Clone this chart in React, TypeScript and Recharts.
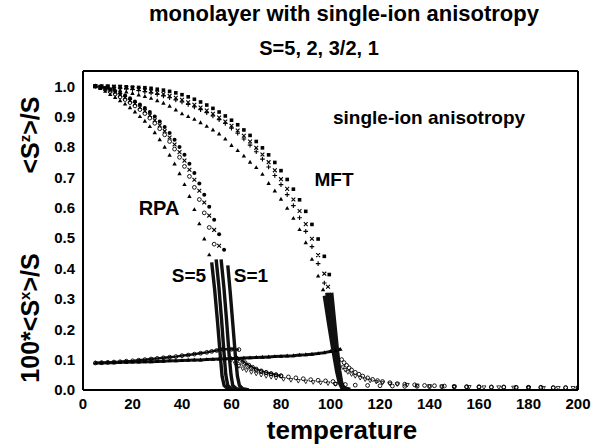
import React from 'react';
import { ComposedChart, XAxis, YAxis, Scatter, Line } from 'recharts';

const FONT = '"Liberation Sans", Arial, Helvetica, sans-serif';

// ---------- tick values ----------
const xMajorTicks = [0, 20, 40, 60, 80, 100, 120, 140, 160, 180, 200];
const xMinorTicks = [10, 30, 50, 70, 90, 110, 130, 150, 170, 190];
const yMajorTicks = [0, 0.1, 0.2, 0.3, 0.4, 0.5, 0.6, 0.7, 0.8, 0.9, 1.0];
const yMinorTicks = [0.05, 0.15, 0.25, 0.35, 0.45, 0.55, 0.65, 0.75, 0.85, 0.95];

// ---------- <Sz>/S, RPA (T, value) ----------
const rpaSzS5: [number, number][] = [
  [5, 1.0], [7, 0.992], [9, 0.983], [11, 0.973], [13, 0.963], [15, 0.952], [17, 0.941], [19, 0.929],
  [21, 0.915], [23, 0.9], [25, 0.885], [27, 0.867], [29, 0.847], [31, 0.824], [33, 0.799], [35, 0.773],
  [37, 0.744], [39, 0.712], [41, 0.676], [43, 0.637], [45, 0.594], [47, 0.547], [49, 0.497], [51, 0.445],
];
const rpaSzS2: [number, number][] = [
  [5, 1.0], [7, 0.996], [9, 0.99], [11, 0.982], [13, 0.974], [15, 0.965], [17, 0.956], [19, 0.946],
  [21, 0.935], [23, 0.923], [25, 0.91], [27, 0.895], [29, 0.878], [31, 0.86], [33, 0.84], [35, 0.818],
  [37, 0.793], [39, 0.766], [41, 0.736], [43, 0.703], [45, 0.667], [47, 0.627], [49, 0.583], [51, 0.535],
  [53, 0.48],
];
const rpaSzS32: [number, number][] = [
  [5, 1.0], [7, 0.997], [9, 0.992], [11, 0.986], [13, 0.979], [15, 0.971], [17, 0.962], [19, 0.952],
  [21, 0.942], [23, 0.93], [25, 0.918], [27, 0.904], [29, 0.888], [31, 0.871], [33, 0.852], [35, 0.831],
  [37, 0.808], [39, 0.783], [41, 0.755], [43, 0.725], [45, 0.692], [47, 0.656], [49, 0.617], [51, 0.574],
  [53, 0.527], [55, 0.475],
];
const rpaSzS1: [number, number][] = [
  [5, 1.0], [7, 0.998], [9, 0.995], [11, 0.99], [13, 0.984], [15, 0.977], [17, 0.969], [19, 0.96],
  [21, 0.95], [23, 0.94], [25, 0.928], [27, 0.915], [29, 0.9], [31, 0.884], [33, 0.866], [35, 0.846],
  [37, 0.824], [39, 0.8], [41, 0.774], [43, 0.745], [45, 0.714], [47, 0.68], [49, 0.643], [51, 0.603],
  [53, 0.56], [55, 0.513], [57, 0.462],
];
// steep drop near Tc (dense points in the original)
const rpaDropS5: [number, number][] = [[52, 0.42], [53.2, 0.33], [54.4, 0.22], [55.5, 0.11], [56.2, 0.045], [57, 0.015], [58.5, 0.004], [62, 0.0]];
const rpaDropS2: [number, number][] = [[53.8, 0.43], [54.9, 0.34], [56, 0.23], [57, 0.12], [57.7, 0.05], [58.5, 0.015], [60, 0.004], [63, 0.0]];
const rpaDropS32: [number, number][] = [[55.8, 0.43], [56.9, 0.34], [58, 0.23], [59, 0.12], [59.8, 0.05], [60.5, 0.015], [62, 0.004], [65, 0.0]];
const rpaDropS1: [number, number][] = [[58.5, 0.41], [59.5, 0.32], [60.6, 0.21], [61.6, 0.11], [62.4, 0.045], [63.2, 0.015], [64.5, 0.004], [67, 0.0]];

// ---------- <Sz>/S, MFT ----------
const mftSzS5: [number, number][] = [
  [5, 1.0], [7.5, 0.997], [10, 0.994], [12.5, 0.99], [15, 0.986], [17.5, 0.981], [20, 0.976], [22.5, 0.971],
  [25, 0.966], [27.5, 0.96], [30, 0.952], [32.5, 0.944], [35, 0.934], [37.5, 0.922], [40, 0.909], [42.5, 0.9],
  [45, 0.891], [47.5, 0.88], [50, 0.868], [52.5, 0.856], [55, 0.843], [57.5, 0.826], [60, 0.805], [62.5, 0.788],
  [65, 0.77], [67.5, 0.75], [70, 0.732], [72.5, 0.71], [75, 0.68], [77.5, 0.655], [80, 0.628], [82.5, 0.598],
  [85, 0.565], [87.5, 0.528], [90, 0.485], [92.5, 0.43], [95, 0.375], [97, 0.33],
];
const mftSzS2: [number, number][] = [
  [5, 1.0], [7.5, 0.999], [10, 0.998], [12.5, 0.996], [15, 0.994], [17.5, 0.992], [20, 0.989], [22.5, 0.986],
  [25, 0.982], [27.5, 0.978], [30, 0.973], [32.5, 0.968], [35, 0.962], [37.5, 0.955], [40, 0.948], [42.5, 0.94],
  [45, 0.932], [47.5, 0.923], [50, 0.913], [52.5, 0.902], [55, 0.89], [57.5, 0.877], [60, 0.862], [62.5, 0.845],
  [65, 0.826], [67.5, 0.806], [70, 0.784], [72.5, 0.76], [75, 0.734], [77.5, 0.706], [80, 0.676], [82.5, 0.643],
  [85, 0.607], [87.5, 0.567], [90, 0.522], [92.5, 0.472], [95, 0.416], [97.5, 0.352],
];
const mftSzS32: [number, number][] = [
  [5, 1.0], [7.5, 0.999], [10, 0.999], [12.5, 0.998], [15, 0.997], [17.5, 0.995], [20, 0.993], [22.5, 0.99],
  [25, 0.987], [27.5, 0.983], [30, 0.979], [32.5, 0.974], [35, 0.968], [37.5, 0.962], [40, 0.955], [42.5, 0.947],
  [45, 0.939], [47.5, 0.93], [50, 0.92], [52.5, 0.909], [55, 0.897], [57.5, 0.884], [60, 0.87], [62.5, 0.854],
  [65, 0.837], [67.5, 0.818], [70, 0.797], [72.5, 0.775], [75, 0.75], [77.5, 0.723], [80, 0.694], [82.5, 0.662],
  [85, 0.627], [87.5, 0.589], [90, 0.546], [92.5, 0.498], [95, 0.444], [97.5, 0.383], [99, 0.34],
];
const mftSzS1: [number, number][] = [
  [5, 1.0], [7.5, 1.0], [10, 1.0], [12.5, 0.999], [15, 0.999], [17.5, 0.998], [20, 0.997], [22.5, 0.996],
  [25, 0.995], [27.5, 0.993], [30, 0.99], [32.5, 0.987], [35, 0.983], [37.5, 0.978], [40, 0.972], [42.5, 0.965],
  [45, 0.957], [47.5, 0.948], [50, 0.938], [52.5, 0.927], [55, 0.915], [57.5, 0.902], [60, 0.888], [62.5, 0.873],
  [65, 0.856], [67.5, 0.838], [70, 0.818], [72.5, 0.797], [75, 0.774], [77.5, 0.749], [80, 0.722], [82.5, 0.693],
  [85, 0.661], [87.5, 0.626], [90, 0.588], [92.5, 0.545], [95, 0.497], [97.5, 0.44], [99.5, 0.38],
];
const mftDropS5: [number, number][] = [[97.5, 0.31], [99.2, 0.22], [101, 0.13], [102.5, 0.06], [103.5, 0.025], [104.5, 0.008], [107, 0.002]];
const mftDropS2: [number, number][] = [[98.5, 0.32], [100, 0.23], [101.5, 0.14], [102.8, 0.065], [103.8, 0.025], [104.8, 0.008], [107, 0.002]];
const mftDropS32: [number, number][] = [[99.5, 0.32], [100.8, 0.23], [102.2, 0.14], [103.3, 0.065], [104.2, 0.025], [105, 0.008], [107.5, 0.002]];
const mftDropS1: [number, number][] = [[100.5, 0.32], [101.6, 0.23], [102.7, 0.14], [103.7, 0.065], [104.5, 0.025], [105.3, 0.008], [108, 0.002]];

// ---------- 100*<Sx>/S ----------
const rpaSxRise: [number, number][] = [
  [5, 0.089], [7.5, 0.09], [10, 0.091], [12.5, 0.092], [15, 0.093], [17.5, 0.095], [20, 0.096], [22.5, 0.098],
  [25, 0.1], [27.5, 0.102], [30, 0.104], [32.5, 0.106], [35, 0.108], [37.5, 0.11], [40, 0.113], [42.5, 0.115],
  [45, 0.118], [47.5, 0.121], [50, 0.124], [52, 0.127], [54, 0.13], [56.5, 0.134], [60, 0.134], [63, 0.133],
];
const mftSxRise: [number, number][] = [
  [5, 0.089], [7.5, 0.089], [10, 0.09], [12.5, 0.09], [15, 0.091], [17.5, 0.091], [20, 0.092], [22.5, 0.092],
  [25, 0.093], [27.5, 0.093], [30, 0.094], [32.5, 0.095], [35, 0.096], [37.5, 0.096], [40, 0.097], [42.5, 0.098],
  [45, 0.099], [47.5, 0.099], [50, 0.1], [52.5, 0.101], [55, 0.102], [57.5, 0.103], [60, 0.104], [62.5, 0.104],
  [65, 0.105], [67.5, 0.106], [70, 0.107], [72.5, 0.108], [75, 0.109], [77.5, 0.11], [80, 0.111], [82.5, 0.112],
  [85, 0.113], [87.5, 0.115], [90, 0.116], [92.5, 0.118], [95, 0.12], [97.5, 0.123], [100, 0.127], [102, 0.13],
  [104, 0.134],
];
const rpaSxTailA: [number, number][] = [
  [62, 0.105], [63.5, 0.094], [65, 0.085], [66.5, 0.078], [68, 0.072], [70, 0.066], [72, 0.061], [74, 0.057],
  [76, 0.053], [78, 0.05], [80, 0.047], [83, 0.043], [86, 0.04], [89, 0.037], [92, 0.034], [95, 0.032],
  [98, 0.03], [101, 0.028],
];
const rpaSxTailB: [number, number][] = [
  [60, 0.1], [61.5, 0.088], [63, 0.079], [64.5, 0.071], [66, 0.065], [68, 0.059], [70, 0.054], [72, 0.05],
  [74, 0.046], [76, 0.043], [78, 0.04], [81, 0.036], [84, 0.033], [87, 0.03], [90, 0.028], [93, 0.026],
  [96, 0.024], [99, 0.022], [102, 0.02],
];
const rpaSxTailC: [number, number][] = [
  [64, 0.1], [65.5, 0.09], [67, 0.082], [68.5, 0.075], [70, 0.069], [72, 0.063], [74, 0.058], [76, 0.054],
  [78, 0.05], [80, 0.046],
];
const mftSxTailA: [number, number][] = [
  [104.5, 0.1], [105.5, 0.09], [106.5, 0.081], [107.5, 0.073], [108.5, 0.066], [110, 0.058], [111.5, 0.052],
  [113, 0.046], [115, 0.04], [117, 0.035], [119, 0.031], [121, 0.028], [124, 0.024], [127, 0.021], [130, 0.019],
  [134, 0.017], [138, 0.015], [142, 0.014], [146, 0.013], [150, 0.012], [155, 0.011], [160, 0.011], [165, 0.01],
  [170, 0.01], [175, 0.009], [180, 0.009], [185, 0.009], [190, 0.008], [195, 0.008], [200, 0.008],
];
const mftSxTailB: [number, number][] = [
  [105, 0.075], [106, 0.066], [107, 0.059], [108.5, 0.052], [110, 0.046], [112, 0.04], [114, 0.035], [116, 0.031],
  [118.5, 0.027], [121, 0.024], [124, 0.021], [127, 0.019], [131, 0.017], [135, 0.015], [140, 0.013], [145, 0.012],
  [150, 0.011], [156, 0.01], [162, 0.009], [168, 0.009], [174, 0.008], [180, 0.008], [186, 0.007], [192, 0.007],
  [198, 0.007],
];
const farTail: [number, number][] = [
  [102, 0.02], [106, 0.018], [110, 0.016], [115, 0.015], [120, 0.014], [125, 0.013], [130, 0.012], [135, 0.012],
  [140, 0.011], [145, 0.011], [150, 0.01], [155, 0.01], [160, 0.009], [165, 0.009], [170, 0.009], [175, 0.008],
  [180, 0.008], [185, 0.008], [190, 0.007], [195, 0.007], [200, 0.007],
];

const toData = (a: [number, number][]) => a.map(([t, v]) => ({ t, v }));

// ---------- marker shapes ----------
const K = '#000';
const triUp = (p: any) => (
  <path d={`M${p.cx} ${p.cy - 2.4}L${p.cx + 2.2} ${p.cy + 1.5}L${p.cx - 2.2} ${p.cy + 1.5}Z`} fill={K} />
);
const triDown = (p: any) => (
  <path d={`M${p.cx} ${p.cy + 2.2}L${p.cx + 2} ${p.cy - 1.4}L${p.cx - 2} ${p.cy - 1.4}Z`} fill="none" stroke={K} strokeWidth={0.8} />
);
const openCircle = (p: any) => <circle cx={p.cx} cy={p.cy} r={1.9} fill="none" stroke={K} strokeWidth={0.9} />;
const dotCircle = (p: any) => <circle cx={p.cx} cy={p.cy} r={2} fill={K} />;
const xCross = (p: any) => (
  <path d={`M${p.cx - 1.9} ${p.cy - 1.9}L${p.cx + 1.9} ${p.cy + 1.9}M${p.cx - 1.9} ${p.cy + 1.9}L${p.cx + 1.9} ${p.cy - 1.9}`} stroke={K} strokeWidth={1.1} />
);
const plus = (p: any) => (
  <path d={`M${p.cx - 2.3} ${p.cy}L${p.cx + 2.3} ${p.cy}M${p.cx} ${p.cy - 2.3}L${p.cx} ${p.cy + 2.3}`} stroke={K} strokeWidth={1.1} />
);
const square = (p: any) => <rect x={p.cx - 1.8} y={p.cy - 1.8} width={3.6} height={3.6} fill={K} />;

const scatterSeries: { name: string; data: [number, number][]; shape: any }[] = [
  { name: 'rpaSzS5', data: rpaSzS5, shape: triUp },
  { name: 'rpaSzS2', data: rpaSzS2, shape: openCircle },
  { name: 'rpaSzS32', data: rpaSzS32, shape: xCross },
  { name: 'rpaSzS1', data: rpaSzS1, shape: dotCircle },
  { name: 'mftSzS5', data: mftSzS5, shape: triUp },
  { name: 'mftSzS2', data: mftSzS2, shape: plus },
  { name: 'mftSzS32', data: mftSzS32, shape: xCross },
  { name: 'mftSzS1', data: mftSzS1, shape: square },
  { name: 'rpaSxRise', data: rpaSxRise, shape: openCircle },
  { name: 'mftSxRise', data: mftSxRise, shape: triUp },
  { name: 'rpaSxTailA', data: rpaSxTailA, shape: openCircle },
  { name: 'rpaSxTailB', data: rpaSxTailB, shape: triDown },
  { name: 'rpaSxTailC', data: rpaSxTailC, shape: openCircle },
  { name: 'mftSxTailA', data: mftSxTailA, shape: openCircle },
  { name: 'mftSxTailB', data: mftSxTailB, shape: triDown },
  { name: 'farTail', data: farTail, shape: openCircle },
];

const lineSeries: { name: string; data: [number, number][]; w: number }[] = [
  { name: 'rpaDropS5', data: rpaDropS5, w: 3.4 },
  { name: 'rpaDropS2', data: rpaDropS2, w: 3.4 },
  { name: 'rpaDropS32', data: rpaDropS32, w: 3.4 },
  { name: 'rpaDropS1', data: rpaDropS1, w: 3.4 },
  { name: 'mftDropS5', data: mftDropS5, w: 3.4 },
  { name: 'mftDropS2', data: mftDropS2, w: 3.4 },
  { name: 'mftDropS32', data: mftDropS32, w: 3.4 },
  { name: 'mftDropS1', data: mftDropS1, w: 3.4 },
  { name: 'rpaSxRiseL', data: rpaSxRise, w: 2.4 },
  { name: 'mftSxRiseL', data: mftSxRise, w: 3 },
  { name: 'rpaSxTailAL', data: rpaSxTailC, w: 1.5 },
];

const tickStyle = { fill: '#000', fontSize: 15, fontWeight: 'bold', fontFamily: FONT } as any;

const txt = (x: number, y: number, size: number, extra: any = {}): React.CSSProperties => ({
  position: 'absolute',
  left: x,
  top: y,
  transform: 'translate(-50%, -50%)',
  fontSize: size,
  fontWeight: 'bold',
  fontFamily: FONT,
  whiteSpace: 'nowrap',
  lineHeight: 1,
  color: '#000',
  ...extra,
});

export default function App() {
  return (
    <div style={{ position: 'absolute', left: 0, top: 0, width: 592, height: 447, background: '#fff', overflow: 'hidden' }}>
      <ComposedChart width={592} height={447} margin={{ top: 71, right: 14, bottom: 27, left: 23 }}>
        <XAxis xAxisId="b" dataKey="t" type="number" domain={[0, 200]} ticks={xMajorTicks} allowDataOverflow
          tickLine={false} axisLine={{ stroke: K, strokeWidth: 2 }} tick={tickStyle} height={30} tickSize={6} tickMargin={2} />
        <XAxis xAxisId="bM" dataKey="t" type="number" domain={[0, 200]} ticks={xMajorTicks} mirror tick={false}
          axisLine={false} tickLine={{ stroke: K, strokeWidth: 1 }} tickSize={7} height={1} />
        <XAxis xAxisId="bm" dataKey="t" type="number" domain={[0, 200]} ticks={xMinorTicks} mirror tick={false}
          axisLine={false} tickLine={{ stroke: K, strokeWidth: 1 }} tickSize={4} height={1} />
        <XAxis xAxisId="tM" dataKey="t" type="number" orientation="top" domain={[0, 200]} ticks={xMajorTicks} mirror tick={false}
          axisLine={{ stroke: K, strokeWidth: 2 }} tickLine={{ stroke: K, strokeWidth: 1 }} tickSize={7} height={1} />
        <XAxis xAxisId="tm" dataKey="t" type="number" orientation="top" domain={[0, 200]} ticks={xMinorTicks} mirror tick={false}
          axisLine={false} tickLine={{ stroke: K, strokeWidth: 1 }} tickSize={4} height={1} />
        <YAxis yAxisId="l" dataKey="v" type="number" domain={[0, 1.05]} ticks={yMajorTicks} allowDataOverflow
          tickLine={false} axisLine={{ stroke: K, strokeWidth: 2 }} tick={tickStyle} width={60} tickSize={6} tickMargin={2}
          tickFormatter={(v: number) => v.toFixed(1)} />
        <YAxis yAxisId="lM" type="number" domain={[0, 1.05]} ticks={yMajorTicks} mirror tick={false}
          axisLine={false} tickLine={{ stroke: K, strokeWidth: 1 }} tickSize={7} width={1} />
        <YAxis yAxisId="lm" type="number" domain={[0, 1.05]} ticks={yMinorTicks} mirror tick={false}
          axisLine={false} tickLine={{ stroke: K, strokeWidth: 1 }} tickSize={4} width={1} />
        <YAxis yAxisId="rM" type="number" orientation="right" domain={[0, 1.05]} ticks={yMajorTicks} mirror tick={false}
          axisLine={{ stroke: K, strokeWidth: 2 }} tickLine={{ stroke: K, strokeWidth: 1 }} tickSize={7} width={1} />
        <YAxis yAxisId="rm" type="number" orientation="right" domain={[0, 1.05]} ticks={yMinorTicks} mirror tick={false}
          axisLine={false} tickLine={{ stroke: K, strokeWidth: 1 }} tickSize={4} width={1} />

        {lineSeries.map((s) => (
          <Line key={s.name} name={s.name} data={toData(s.data)} dataKey="v" xAxisId="b" yAxisId="l" type="linear"
            stroke="#111" strokeWidth={s.w} dot={false} activeDot={false} isAnimationActive={false} />
        ))}
        {scatterSeries.map((s) => (
          <Scatter key={s.name} name={s.name} data={toData(s.data)} dataKey="v" xAxisId="b" yAxisId="l"
            shape={s.shape} isAnimationActive={false} />
        ))}
      </ComposedChart>

      <div style={txt(344, 14, 22)}>monolayer with single-ion anisotropy</div>
      <div style={txt(319, 48, 20)}>S=5, 2, 3/2, 1</div>
      <div style={txt(30, 135, 25, { transform: 'translate(-50%, -50%) rotate(-90deg)' })}>
        &lt;S<sup style={{ fontSize: '0.6em' }}>z</sup>&gt;/S
      </div>
      <div style={txt(30, 318, 25, { transform: 'translate(-50%, -50%) rotate(-90deg)' })}>
        100*&lt;S<sup style={{ fontSize: '0.6em' }}>x</sup>&gt;/S
      </div>
      <div style={txt(342, 430, 26)}>temperature</div>
      <div style={txt(333, 117, 19, { transform: 'translate(0, -50%)' })}>single-ion anisotropy</div>
      <div style={txt(334, 179, 19)}>MFT</div>
      <div style={txt(159, 208, 20)}>RPA</div>
      <div style={txt(189, 275, 19)}>S=5</div>
      <div style={txt(251, 275, 19)}>S=1</div>
    </div>
  );
}
